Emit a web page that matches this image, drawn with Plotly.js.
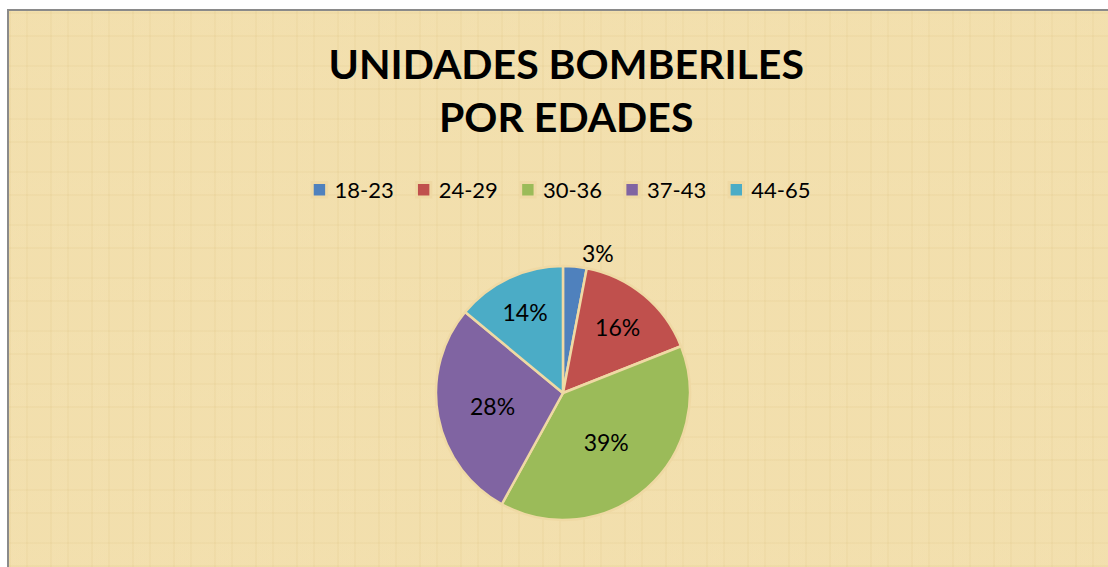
<!DOCTYPE html>
<html>
<head>
<meta charset="utf-8">
<script src="https://cdn.plot.ly/plotly-3.0.1.min.js"></script>
<style>
  html, body { margin: 0; padding: 0; background: #ffffff; }
  #wrap { position: relative; width: 1108px; height: 567px; overflow: hidden; background: #ffffff; }
  #frame {
    position: absolute; left: 7px; top: 9px; width: 1101px; height: 558px;
    border-left: 2px solid #8a8a8a; border-top: 2px solid #8a8a8a; box-sizing: border-box;
    background-color: #f1dda9;
    background-image:
      repeating-linear-gradient(90deg, rgba(205,175,105,0.07) 0px, rgba(205,175,105,0.07) 2px, rgba(255,245,215,0.06) 2px, rgba(255,245,215,0.06) 17px, rgba(195,165,95,0.05) 17px, rgba(195,165,95,0.05) 19px, rgba(255,248,220,0.04) 19px, rgba(255,248,220,0.04) 41px),
      repeating-linear-gradient(0deg, rgba(205,175,105,0.07) 0px, rgba(205,175,105,0.07) 2px, rgba(255,245,215,0.06) 2px, rgba(255,245,215,0.06) 23px, rgba(195,165,95,0.05) 23px, rgba(195,165,95,0.05) 25px, rgba(255,248,220,0.04) 25px, rgba(255,248,220,0.04) 53px);
  }
  #chart { position: absolute; left: 0; top: 0; width: 1108px; height: 567px; }
</style>
</head>
<body>
<div id="wrap">
  <div id="frame"></div>
  <div id="chart"></div>
</div>
<script>
const categories = ['18-23', '24-29', '30-36', '37-43', '44-65'];
const values = [3, 16, 39, 28, 14];
const colors = ['#4F81BD', '#C0504D', '#9BBB59', '#8064A2', '#4BACC6'];
const textPositions = ['outside', 'inside', 'inside', 'inside', 'inside'];
const chartTitleLines = ['UNIDADES BOMBERILES', 'POR EDADES'];

const trace = {
  type: 'pie',
  labels: categories,
  values: values,
  sort: false,
  direction: 'clockwise',
  rotation: 0,
  marker: { colors: colors, line: { color: '#efd9a4', width: 2.5 } },
  texttemplate: '%{percent:.0%}',
  textposition: textPositions,
  insidetextorientation: 'horizontal',
  textfont: { family: 'Lato, sans-serif', size: 23, color: '#000000' },
  outsidetextfont: { family: 'Lato, sans-serif', size: 23, color: '#000000' },
  domain: { x: [0.3935, 0.6227], y: [0.0829, 0.5309] },
  hoverinfo: 'label+percent'
};

const layout = {
  width: 1108, height: 567,
  margin: { l: 0, r: 0, t: 0, b: 0 },
  paper_bgcolor: 'rgba(0,0,0,0)',
  plot_bgcolor: 'rgba(0,0,0,0)',
  title: {
    text: chartTitleLines.map(function (s) { return '<b>' + s + '</b>'; }).join('<br>'),
    font: { family: 'Lato, sans-serif', size: 41, color: '#000000' },
    x: 0.511, xanchor: 'center',
    y: 0.861, yanchor: 'top'
  },
  showlegend: true,
  legend: {
    orientation: 'h',
    x: 0.5013, xanchor: 'center',
    y: 0.665, yanchor: 'middle',
    font: { family: 'Lato, sans-serif', size: 22, color: '#000000' },
    bgcolor: 'rgba(0,0,0,0)',
    itemclick: false, itemdoubleclick: false,
    traceorder: 'normal'
  }
};

Plotly.newPlot('chart', [trace], layout, { displayModeBar: false, staticPlot: true }).then(function (gd) {
  // enlarge legend swatches and set them closer to their labels, as in the reference
  gd.querySelectorAll('.legend .legendpoints path').forEach(function (p) {
    p.setAttribute('transform', 'translate(25,0) scale(1.2)');
  });
});
</script>
</body>
</html>
